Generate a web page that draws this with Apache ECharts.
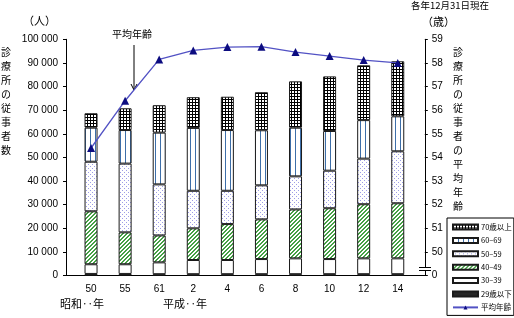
<!DOCTYPE html>
<html><head><meta charset="utf-8">
<script src="https://cdn.jsdelivr.net/npm/echarts@6/dist/echarts.min.js"></script>
<style>html,body{margin:0;padding:0;background:#fff}#c{width:514px;height:318px}</style>
</head><body><div id="c"></div>
<script>
// ---- data ----
const years = ['50','55','61','2','4','6','8','10','12','14'];
const age29under = [700, 700, 600, 600, 600, 600, 600, 600, 600, 600];
const age30s     = [4100, 4100, 5000, 6000, 6000, 6400, 6700, 6400, 6700, 6700];
const age40s     = [22400, 13500, 11400, 13400, 15200, 16800, 20700, 21500, 22900, 23300];
const age50s     = [21000, 29100, 21600, 15900, 14100, 14400, 14000, 15900, 19300, 22000];
const age60s     = [14400, 14200, 21900, 26600, 25700, 23300, 20600, 16800, 16300, 14800];
const age70over  = [6100, 9200, 11600, 13000, 14100, 16100, 19600, 23100, 23200, 23300];
const avgAge     = [54.40, 56.40, 58.15, 58.53, 58.67, 58.69, 58.46, 58.29, 58.12, 58.00];
const seriesNames = ['29歳以下','30–39','40–49','50–59','60–69','70歳以上'];
const lineName = '平均年齢';

// ---- patterns ----
function pat(w, h, draw) {
  const c = document.createElement('canvas'); c.width = w; c.height = h;
  const g = c.getContext('2d'); g.fillStyle = '#fff'; g.fillRect(0, 0, w, h); draw(g);
  return { image: c, repeat: 'repeat' };
}
const pGrid = pat(3, 3, g => { g.fillStyle = '#000'; g.fillRect(0, 0, 3, 1); g.fillRect(0, 0, 1, 3); });
const pStripe = pat(5, 1, g => { g.fillStyle = '#3d6ea8'; g.fillRect(0, 0, 1, 1); });
const pDots = pat(4, 4, g => { g.fillStyle = '#9d9de6'; g.fillRect(0, 0, 1, 1); g.fillRect(2, 2, 1, 1); });
const pDiag = pat(4, 4, g => { g.fillStyle = '#45a045'; for (let i = 0; i < 4; i++) { g.fillRect(3 - i, i, 1, 1); g.fillRect((4 - i) % 4, i, 1, 1); } });
const fills = ['#262626', '#ffffff', pDiag, pDots, pStripe, pGrid];
const values = [age29under, age30s, age40s, age50s, age60s, age70over];

const FONT = "'Liberation Sans', 'Noto Sans CJK JP', sans-serif";
const JFONT = "'Noto Sans CJK JP', sans-serif";

const chart = echarts.init(document.getElementById('c'), null, { renderer: 'canvas' });

const barSeries = seriesNames.map((n, k) => ({
  name: n, type: 'bar', stack: 'total', barWidth: 13, xAxisIndex: 0, yAxisIndex: 0,
  itemStyle: { color: fills[k], borderColor: '#1a1a1a', borderWidth: 1 },
  emphasis: { disabled: true },
  data: values[k]
}));

const legendOrder = ['70歳以上','60–69','50–59','40–49','30–39','29歳以下'];

chart.setOption({
  animation: false,
  textStyle: { fontFamily: FONT },
  grid: [
    { left: 74, top: 39.3, width: 340.8, height: 236.3 },
    { left: 66, top: 39.3, width: 358.7, height: 236.3 }
  ],
  xAxis: [{
    type: 'category', data: years, gridIndex: 0,
    axisLine: { show: false }, axisTick: { show: false }, splitLine: { show: false },
    axisLabel: { color: '#000', fontSize: 10, margin: 9, fontFamily: FONT }
  }, {
    type: 'value', gridIndex: 1, min: 0, max: 1,
    axisLine: { show: true, lineStyle: { color: '#000', width: 1 } },
    axisTick: { show: false }, splitLine: { show: false }, axisLabel: { show: false }
  }],
  yAxis: [{
    type: 'value', gridIndex: 0, min: 0, max: 100000, interval: 10000, offset: 8,
    axisLine: { show: true, lineStyle: { color: '#000' } },
    axisTick: { show: true, length: 3, lineStyle: { color: '#000' } },
    splitLine: { show: false },
    axisLabel: { color: '#000', fontSize: 10, margin: 8, fontFamily: FONT,
      formatter: v => v === 0 ? '0' : (Math.round(v / 1000) + ' 000') }
  }, {
    type: 'value', gridIndex: 0, min: 49, max: 59, interval: 1, position: 'right', offset: 10,
    axisLine: { show: true, lineStyle: { color: '#000' } },
    axisTick: { show: true, length: 3, lineStyle: { color: '#000' } },
    splitLine: { show: false },
    axisLabel: { color: '#000', fontSize: 10, margin: 7, fontFamily: FONT,
      formatter: v => v === 49 ? '0' : String(v) }
  }, {
    type: 'value', gridIndex: 1, min: 0, max: 1, show: false
  }],
  legend: {
    orient: 'vertical', left: 447, top: 218,
    data: legendOrder.map(n => ({ name: n, icon: 'rect' })).concat([{ name: lineName }]),
    itemWidth: 25, itemHeight: 5, itemGap: 3.4,
    padding: [4, 2, 3, 5],
    borderColor: '#000', borderWidth: 1,
    textStyle: { fontSize: 7.5, lineHeight: 10, color: '#000', fontFamily: JFONT, padding: [0, 0, 0, -2] },
    selectedMode: false
  },
  series: barSeries.concat([{
    name: lineName, type: 'line', xAxisIndex: 0, yAxisIndex: 1, z: 5,
    symbol: 'triangle', symbolSize: 8,
    lineStyle: { color: '#5252c4', width: 1.3 },
    itemStyle: { color: '#0c0c80' },
    data: avgAge
  }]),
  graphic: [
    { type: 'text', left: 23, top: 15, style: { text: '（人）', fontSize: 11, fill: '#000', fontFamily: JFONT } },
    { type: 'text', left: 411, top: 1, style: { text: '各年12月31日現在', fontSize: 9.5, fill: '#000', fontFamily: JFONT } },
    { type: 'text', left: 422, top: 16, style: { text: '（歳）', fontSize: 11, fill: '#000', fontFamily: JFONT } },
    { type: 'text', left: 112, top: 29, style: { text: '平均年齢', fontSize: 10, fill: '#000', fontFamily: JFONT } },
    { type: 'line', shape: { x1: 134, y1: 45, x2: 134, y2: 90 }, style: { stroke: '#000', lineWidth: 1 } },
    { type: 'polyline', shape: { points: [[131, 84], [134, 90], [137, 84]] }, style: { stroke: '#000', lineWidth: 1, fill: null } },
    { type: 'text', left: 1, top: 45, style: { text: '診\n療\n所\nの\n従\n事\n者\n数', fontSize: 10, lineHeight: 14, fill: '#000', fontFamily: JFONT } },
    { type: 'text', left: 453, top: 45, style: { text: '診\n療\n所\nの\n従\n事\n者\nの\n平\n均\n年\n齢', fontSize: 10, lineHeight: 14, fill: '#000', fontFamily: JFONT } },
    { type: 'text', left: 60, top: 298, style: { text: '昭和‥年', fontSize: 11, fill: '#000', fontFamily: JFONT } },
    { type: 'text', left: 163, top: 298, style: { text: '平成‥年', fontSize: 11, fill: '#000', fontFamily: JFONT } },
    { type: 'rect', shape: { x: 419, y: 268, width: 12, height: 2.5 }, style: { fill: '#fff' }, z: 100 },
    { type: 'line', shape: { x1: 419, y1: 267.5, x2: 431, y2: 267.5 }, style: { stroke: '#000', lineWidth: 1 }, z: 101 },
    { type: 'line', shape: { x1: 419, y1: 270.5, x2: 431, y2: 270.5 }, style: { stroke: '#000', lineWidth: 1 }, z: 101 }
  ]
});
</script>
</body></html>
